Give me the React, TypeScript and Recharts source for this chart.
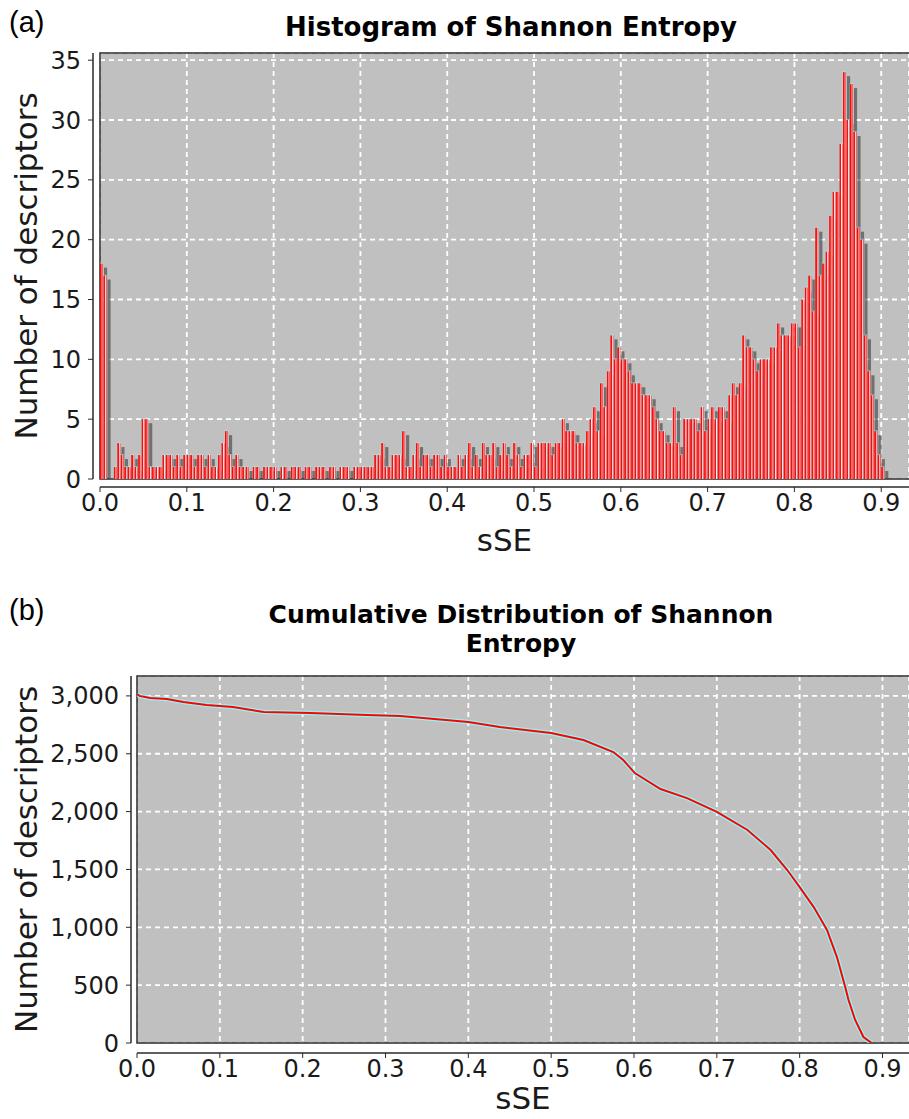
import { BarChart, Bar, LineChart, Line, XAxis, YAxis, CartesianGrid, ReferenceArea } from 'recharts';

// histogram of sSE, bins of 0.004 starting at 0
const BIN_WIDTH = 0.004;
const histCounts = [
  18, 17, 0, 0, 1, 3, 2, 1, 1, 2, 1, 2, 5, 5, 1, 1, 1, 1, 2, 2, 2, 1, 2, 1, 2,
  2, 2, 1, 2, 2, 1, 2, 1, 1, 2, 3, 4, 2, 1, 2, 1, 1, 1, 0, 1, 1, 0, 1, 1, 1,
  1, 0, 1, 1, 0, 1, 1, 1, 0, 1, 1, 0, 1, 1, 1, 0, 1, 1, 0, 1, 1, 1, 0, 1, 1,
  1, 1, 1, 1, 2, 2, 3, 1, 1, 2, 2, 2, 4, 1, 1, 2, 3, 1, 2, 2, 1, 2, 2, 1, 2,
  1, 1, 1, 2, 1, 2, 3, 1, 2, 1, 3, 2, 2, 3, 1, 2, 3, 2, 1, 3, 2, 1, 2, 2, 3,
  1, 3, 3, 3, 3, 2, 3, 3, 5, 4, 4, 4, 3, 3, 3, 4, 5, 6, 4, 8, 6, 9, 12, 10, 11,
  10, 10, 9, 8, 8, 8, 7, 7, 7, 6, 5, 4, 4, 3, 3, 6, 3, 2, 5, 5, 5, 5, 4, 6, 4,
  5, 6, 5, 6, 6, 5, 7, 8, 7, 8, 12, 11, 11, 10, 9, 10, 10, 10, 11, 11, 13, 12, 12, 12, 13,
  13, 11, 15, 16, 17, 14, 21, 17, 18, 19, 22, 24, 24, 28, 34, 30, 33, 29, 21, 20, 12, 9, 7, 4, 2, 1,
];

// cumulative distribution
const cumSse = [
  0, 0.003, 0.016, 0.036, 0.056, 0.084, 0.116, 0.153, 0.209, 0.278, 0.318, 0.4, 0.438,
  0.5, 0.539, 0.575, 0.587, 0.601, 0.632, 0.664, 0.7, 0.737, 0.765, 0.785, 0.8, 0.817,
  0.833, 0.845, 0.855, 0.859, 0.867, 0.877, 0.887,
];
const cumCount = [
  3016, 3000, 2982, 2973, 2947, 2921, 2904, 2861, 2852, 2835, 2826, 2774, 2731,
  2679, 2619, 2515, 2446, 2333, 2195, 2117, 1997, 1841, 1668, 1495, 1348, 1175,
  977, 743, 484, 372, 199, 52, 0,
];

const sseTicks = [0, 0.1, 0.2, 0.3, 0.4, 0.5, 0.6, 0.7, 0.8, 0.9];
const histTicks = [0, 5, 10, 15, 20, 25, 30, 35];
const cumTicks = [0, 500, 1000, 1500, 2000, 2500, 3000];

const histData = histCounts.map((count, i) => ({ sse: BIN_WIDTH * i + BIN_WIDTH / 2, count }));
const cumData = cumSse.map((sse, i) => ({ sse, count: cumCount[i] }));

const AXIS = '#2a2a2a';
const TICK = { fill: '#1a1a1a', fontSize: 24, fontFamily: 'DejaVu Sans' };
const AXIS_LABEL = { fill: '#1a1a1a', fontSize: 31, fontFamily: 'DejaVu Sans' };

// bar with jfreechart-ish shadow and gradient
const HistBar = (props: any) => {
  const { x, y, width, height } = props;
  if (!height || height <= 0) return null;
  return (
    <g>
      <rect x={x + 4} y={y + 4} width={width} height={Math.max(height - 4, 0)} fill="#3a3a3a" fillOpacity={0.6} />
      <rect x={x - 0.5} y={y - 1} width={width + 1} height={height + 1} fill="#8ff" fillOpacity={0.45} />
      <rect x={x} y={y} width={width} height={height} fill="url(#barGrad)" />
    </g>
  );
};

export default function App() {
  return (
    <div
      style={{
        position: 'absolute',
        left: 0,
        top: 0,
        width: 909,
        height: 1119,
        overflow: 'hidden',
        background: '#fff',
        fontFamily: 'DejaVu Sans, sans-serif',
      }}
    >
      <div style={{ position: 'absolute', left: 9, top: 6, fontSize: 29, lineHeight: '32px', fontFamily: 'Liberation Sans' }}>
        (a)
      </div>
      <div
        style={{
          position: 'absolute',
          left: 0,
          width: 1022,
          top: 12,
          textAlign: 'center',
          fontSize: 26,
          lineHeight: '30px',
          fontWeight: 'bold',
        }}
      >
        Histogram of Shannon Entropy
      </div>

      <div style={{ position: 'absolute', left: 0, top: 0 }}>
        <BarChart width={909} height={559} data={histData} margin={{ top: 53, right: 0, left: 0, bottom: 0 }}>
          <defs>
            <linearGradient id="barGrad" x1="0" x2="1" y1="0" y2="0">
              <stop offset="0%" stopColor="#ff0000" />
              <stop offset="40%" stopColor="#ff1010" />
              <stop offset="62%" stopColor="#ffe8e8" />
              <stop offset="80%" stopColor="#ff6060" />
              <stop offset="100%" stopColor="#ff4848" />
            </linearGradient>
          </defs>
          <CartesianGrid fill="#c0c0c0" fillOpacity={1} stroke="#ffffff" strokeDasharray="5 4" strokeWidth={1.8} />
          <XAxis
            type="number"
            dataKey="sse"
            domain={[0, 0.932]}
            ticks={sseTicks}
            allowDataOverflow
            tickFormatter={(v: number) => v.toFixed(1)}
            axisLine={{ stroke: AXIS, strokeWidth: 1.5, transform: 'translate(0,8)' }}
            tickLine={{ stroke: AXIS, transform: 'translate(0,8)' }}
            tickSize={5}
            tickMargin={10}
            tick={TICK}
            height={80}
            label={{ value: 'sSE', position: 'insideBottom', offset: 8, ...AXIS_LABEL }}
          />
          <YAxis
            type="number"
            domain={[0, 35.6]}
            ticks={histTicks}
            allowDataOverflow
            axisLine={{ stroke: AXIS, strokeWidth: 1.5, transform: 'translate(-7,0)' }}
            tickLine={{ stroke: AXIS, transform: 'translate(-7,0)' }}
            tickSize={5}
            tickMargin={14}
            tick={TICK}
            width={100}
            label={{
              value: 'Number of descriptors',
              angle: -90,
              position: 'insideLeft',
              offset: 26,
              style: { textAnchor: 'middle' },
              ...AXIS_LABEL,
            }}
          />
          <Bar dataKey="count" barSize={3.5} shape={HistBar} isAnimationActive={false} />
          <ReferenceArea
            x1={0}
            x2={0.95}
            y1={0}
            y2={35.6}
            fill="none"
            stroke={AXIS}
            strokeWidth={1.5}
            ifOverflow="visible"
          />
        </BarChart>
      </div>

      <div style={{ position: 'absolute', left: 9, top: 594, fontSize: 29, lineHeight: '32px', fontFamily: 'Liberation Sans' }}>
        (b)
      </div>
      <div
        style={{
          position: 'absolute',
          left: 0,
          width: 1042,
          top: 600,
          textAlign: 'center',
          fontSize: 25,
          lineHeight: '29px',
          fontWeight: 'bold',
        }}
      >
        Cumulative Distribution of Shannon
        <br />
        Entropy
      </div>

      <div style={{ position: 'absolute', left: 0, top: 600 }}>
        <LineChart width={909} height={519} data={cumData} margin={{ top: 76, right: 0, left: 0, bottom: 0 }}>
          <CartesianGrid fill="#c0c0c0" fillOpacity={1} stroke="#ffffff" strokeDasharray="5 4" strokeWidth={1.8} />
          <XAxis
            type="number"
            dataKey="sse"
            domain={[0, 0.932]}
            ticks={sseTicks}
            allowDataOverflow
            tickFormatter={(v: number) => v.toFixed(1)}
            axisLine={{ stroke: AXIS, strokeWidth: 1.5, transform: 'translate(0,10)' }}
            tickLine={{ stroke: AXIS, transform: 'translate(0,10)' }}
            tickSize={5}
            tickMargin={12}
            tick={TICK}
            height={76}
            label={{ value: 'sSE', position: 'insideBottom', offset: 10, ...AXIS_LABEL }}
          />
          <YAxis
            type="number"
            domain={[0, 3172]}
            ticks={cumTicks}
            allowDataOverflow
            tickFormatter={(v: number) => v.toLocaleString('en-US')}
            axisLine={{ stroke: AXIS, strokeWidth: 1.5, transform: 'translate(-6,0)' }}
            tickLine={{ stroke: AXIS, transform: 'translate(-6,0)' }}
            tickSize={5}
            tickMargin={13}
            tick={TICK}
            width={137}
            label={{
              value: 'Number of descriptors',
              angle: -90,
              position: 'insideLeft',
              offset: 26,
              style: { textAnchor: 'middle' },
              ...AXIS_LABEL,
            }}
          />
          <Line
            dataKey="count"
            type="linear"
            stroke="#8ff"
            strokeOpacity={0.8}
            strokeWidth={4.5}
            dot={false}
            isAnimationActive={false}
          />
          <Line
            dataKey="count"
            type="linear"
            stroke="#ff0000"
            strokeWidth={2}
            dot={false}
            isAnimationActive={false}
          />
          <ReferenceArea
            x1={0}
            x2={0.95}
            y1={0}
            y2={3172}
            fill="none"
            stroke={AXIS}
            strokeWidth={1.5}
            ifOverflow="visible"
          />
        </LineChart>
      </div>
    </div>
  );
}
